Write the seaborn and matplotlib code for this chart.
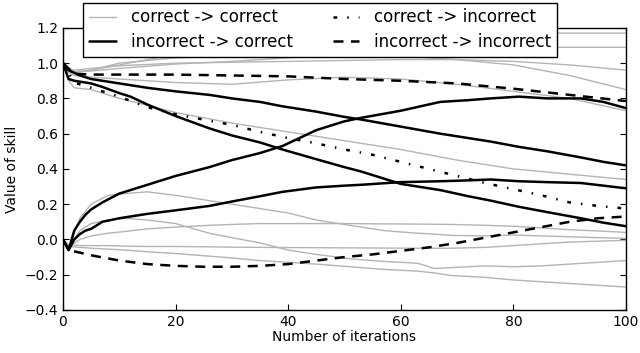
import numpy as np
import pandas as pd
import matplotlib
matplotlib.use("Agg")
import matplotlib.pyplot as plt
import seaborn as sns

# ---------------------------------------------------------------
# values (iteration -> skill)
# ---------------------------------------------------------------
# correct -> correct (thin grey), starting at 1.0
cc_hi_x = [0, 1, 2, 5, 10, 20, 30, 40, 50, 60, 70, 80, 90, 100]
cc_hi_a = [1.0, 0.96, 0.95, 0.96, 0.99, 1.05, 1.09, 1.12, 1.14, 1.155, 1.165, 1.17, 1.17, 1.17]
cc_hi_b = [1.0, 0.96, 0.95, 0.955, 0.97, 0.995, 1.01, 1.03, 1.05, 1.07, 1.08, 1.09, 1.09, 1.09]
cc_hi_c = [1.0, 0.95, 0.95, 0.96, 1.0, 1.03, 1.04, 1.05, 1.05, 1.04, 1.02, 0.99, 0.93, 0.85]
cc_hi_d = [1.0, 0.97, 0.96, 0.97, 0.985, 1.0, 1.005, 1.01, 1.015, 1.02, 1.02, 1.01, 0.99, 0.96]
cc_hi_e = [1.0, 0.95, 0.93, 0.92, 0.91, 0.89, 0.88, 0.905, 0.92, 0.91, 0.88, 0.84, 0.80, 0.73]
cc_hi_f = [1.0, 0.9, 0.86, 0.85, 0.80, 0.72, 0.66, 0.61, 0.56, 0.51, 0.45, 0.40, 0.37, 0.34]

# correct -> correct (thin grey), starting at 0.0
cc_lo_x = [0, 1, 3, 5, 8, 11, 15, 20, 26, 30, 35, 40, 45, 51, 57, 63, 66, 69, 75, 80, 85, 90, 95, 100]
cc_lo_a = [0.0, -0.05, 0.12, 0.2, 0.25, 0.26, 0.27, 0.25, 0.22, 0.2, 0.175, 0.15, 0.11, 0.08, 0.05,
           0.035, 0.03, 0.023, 0.02, 0.025, 0.02, 0.015, 0.01, 0.006]
cc_lo_b = [0.0, -0.05, 0.05, 0.09, 0.11, 0.12, 0.11, 0.09, 0.035, 0.01, -0.02, -0.06, -0.085, -0.11,
           -0.125, -0.135, -0.165, -0.16, -0.15, -0.155, -0.15, -0.14, -0.13, -0.12]
cc_lo_c = [0.0, -0.04, 0.0, 0.02, 0.035, 0.045, 0.06, 0.07, 0.08, 0.085, 0.09, 0.09, 0.09, 0.09, 0.088,
           0.087, 0.086, 0.085, 0.08, 0.075, 0.065, 0.055, 0.048, 0.04]
cc_lo_d = [0.0, -0.03, -0.035, -0.035, -0.035, -0.038, -0.04, -0.04, -0.042, -0.044, -0.045, -0.046,
           -0.047, -0.048, -0.049, -0.05, -0.05, -0.05, -0.045, -0.035, -0.025, -0.015, -0.01, -0.005]
cc_lo_e = [0.0, -0.04, -0.045, -0.05, -0.055, -0.06, -0.07, -0.08, -0.095, -0.105, -0.12, -0.13, -0.14,
           -0.155, -0.17, -0.18, -0.19, -0.205, -0.215, -0.23, -0.24, -0.25, -0.26, -0.27]

# incorrect -> correct (thick black)
ic_x = [0, 1, 2, 3, 4, 5, 7, 10, 12, 15, 20, 26, 30, 35, 39, 45, 50, 53, 60, 67, 72, 76, 81, 86, 92, 96, 100]
ic_down_slow = [1.0, 0.96, 0.945, 0.93, 0.92, 0.91, 0.9, 0.885, 0.875, 0.86, 0.84, 0.82, 0.8, 0.78, 0.755,
                0.725, 0.695, 0.68, 0.64, 0.6, 0.575, 0.555, 0.525, 0.5, 0.465, 0.44, 0.42]
ic_down_fast = [1.0, 0.91, 0.9, 0.895, 0.89, 0.885, 0.865, 0.83, 0.81, 0.765, 0.7, 0.63, 0.59, 0.55, 0.51,
                0.455, 0.41, 0.385, 0.315, 0.28, 0.245, 0.22, 0.185, 0.155, 0.12, 0.095, 0.075]
ic_up_big = [0.0, -0.06, 0.05, 0.1, 0.14, 0.17, 0.21, 0.26, 0.28, 0.31, 0.36, 0.41, 0.45, 0.49, 0.53,
             0.62, 0.67, 0.69, 0.73, 0.78, 0.79, 0.80, 0.81, 0.80, 0.80, 0.78, 0.745]
ic_up_small = [0.0, -0.06, 0.0, 0.03, 0.05, 0.06, 0.1, 0.12, 0.13, 0.145, 0.165, 0.19, 0.215, 0.245, 0.27,
               0.295, 0.305, 0.31, 0.325, 0.33, 0.335, 0.34, 0.33, 0.325, 0.32, 0.305, 0.29]

# correct -> incorrect (dash-dot)
ci_x = [0, 2, 5, 10, 15, 20, 25, 30, 35, 40, 45, 50, 55, 60, 65, 70, 75, 80, 85, 90, 95, 100]
ci_y = [1.0, 0.89, 0.86, 0.81, 0.75, 0.71, 0.68, 0.65, 0.61, 0.575, 0.545, 0.51, 0.48, 0.44, 0.40,
        0.36, 0.32, 0.285, 0.25, 0.21, 0.19, 0.175]

# incorrect -> incorrect (dashed)
ii_hi_x = [0, 2, 5, 10, 20, 30, 40, 50, 60, 70, 80, 90, 100]
ii_hi_y = [1.0, 0.94, 0.935, 0.935, 0.935, 0.93, 0.925, 0.91, 0.9, 0.885, 0.855, 0.82, 0.785]
ii_lo_x = [0, 1, 5, 10, 15, 20, 25, 30, 35, 40, 45, 50, 55, 60, 65, 70, 75, 80, 85, 90, 95, 100]
ii_lo_y = [0.0, -0.06, -0.09, -0.12, -0.14, -0.15, -0.155, -0.155, -0.15, -0.14, -0.12, -0.10, -0.085,
           -0.065, -0.045, -0.02, 0.01, 0.04, 0.07, 0.10, 0.12, 0.13]

# ---------------------------------------------------------------
sns.set_style("ticks")
plt.rcParams.update({
    "font.family": ["DejaVu Sans"],
    "xtick.direction": "in", "ytick.direction": "in",
    "xtick.top": True, "ytick.right": True,
    "xtick.major.size": 4, "ytick.major.size": 4,
    "axes.edgecolor": "black", "axes.linewidth": 1.0,
    "xtick.color": "black", "ytick.color": "black",
    "axes.labelcolor": "black", "text.color": "black",
})

fig, ax = plt.subplots(figsize=(6.4, 3.53), dpi=100)
fig.subplots_adjust(left=0.0984, right=0.978, bottom=0.122, top=0.921)

grey = "#b4b4b4"
grey_series = [(cc_hi_x, s) for s in (cc_hi_a, cc_hi_b, cc_hi_c, cc_hi_d, cc_hi_e, cc_hi_f)] + \
              [(cc_lo_x, s) for s in (cc_lo_a, cc_lo_b, cc_lo_c, cc_lo_d, cc_lo_e)]
for i, (xs, ys) in enumerate(grey_series):
    sns.lineplot(x=xs, y=ys, ax=ax, color=grey, lw=1.0,
                 label="correct -> correct" if i == 0 else None)

for i, ys in enumerate([ic_down_slow, ic_down_fast, ic_up_big, ic_up_small]):
    sns.lineplot(x=ic_x, y=ys, ax=ax, color="black", lw=1.8,
                 label="incorrect -> correct" if i == 0 else None)

sns.lineplot(x=ci_x, y=ci_y, ax=ax, color="black", lw=1.8, label="correct -> incorrect")
ax.lines[-1].set_dashes((1.5, 4, 0.6, 4))

sns.lineplot(x=ii_hi_x, y=ii_hi_y, ax=ax, color="black", lw=1.8, label="incorrect -> incorrect")
ax.lines[-1].set_dashes((4, 3))
sns.lineplot(x=ii_lo_x, y=ii_lo_y, ax=ax, color="black", lw=1.8)
ax.lines[-1].set_dashes((4, 3))

ax.set_xlim(0, 100)
ax.set_ylim(-0.4, 1.2)
ax.set_xticks(np.arange(0, 101, 20))
ax.set_yticks(np.arange(-0.4, 1.21, 0.2))
ax.tick_params(labelsize=10)
ax.set_xlabel("Number of iterations", fontsize=10, labelpad=1)
ax.set_ylabel("Value of skill", fontsize=10)

handles, labels = ax.get_legend_handles_labels()
leg = ax.legend(handles, labels, ncol=2,
                loc="upper center", bbox_to_anchor=(0.457, 1.09), fontsize=12,
                frameon=True, fancybox=False, framealpha=1.0, edgecolor="black",
                handlelength=1.6, handletextpad=0.9, columnspacing=2.4,
                borderpad=0.35, labelspacing=0.4, borderaxespad=0.0)
leg.get_frame().set_linewidth(1.0)

fig.savefig("out.png", dpi=100)
